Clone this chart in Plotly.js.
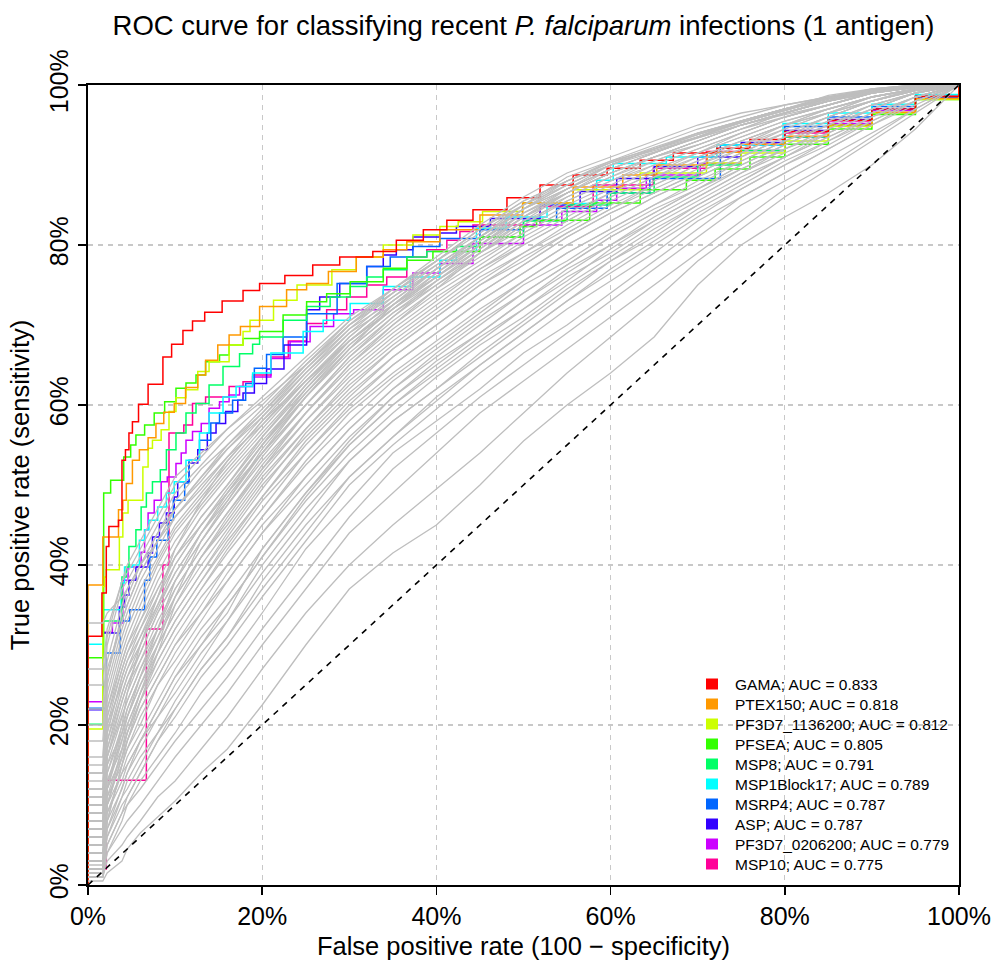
<!DOCTYPE html>
<html><head><meta charset="utf-8">
<script src="https://cdn.plot.ly/plotly-3.0.1.min.js"></script>
<style>html,body{margin:0;padding:0;background:#fff}</style>
</head><body><div id="chart" style="width:993px;height:965px"></div>
<script>
// ---- data (values in %) ----
const antigens = ["GAMA","PTEX150","PF3D7_1136200","PFSEA","MSP8","MSP1Block17","MSRP4","ASP","PF3D7_0206200","MSP10"];
const aucs = ["0.833","0.818","0.812","0.805","0.791","0.789","0.787","0.787","0.779","0.775"];

const gamaFpr = [0,0,1.6,2.1,2.4,3.5,3.9,4.3,4.7,5.1,5.8,6.9,8.6,9.6,10.9,12,13.4,15.4,17.8,19.7,22.6,25.8,28.9,32.7,35.4,38.5,41.2,44.2,48.1,51.9,55.7,59.6,63.4,67.2,72.2,76,80,85,90,95,100];
const gamaTpr = [0,31.1,36.5,42.3,44.8,45.6,53.1,54.4,56.5,57.9,60.1,62.6,66,67.6,69.3,70.5,71.6,73,74.3,75.2,76.2,77.5,78.5,79.2,80.6,81.9,83.1,84.4,85.9,87.5,88.75,89.6,90.6,91.5,92.1,93.2,94.2,95.6,97,98.6,100];
const ptexFpr = [0,0,1.7,3.5,4,4.4,5.1,5.9,6.9,7.8,8.7,9.9,11.2,12.6,13.5,14.9,16.2,17.5,19.7,22.8,25.1,27.6,30.8,33.9,36.6,40.4,45,49.9,55.7,61.4,65.3,71.1,75,80,85,90,95,100];
const ptexTpr = [0,37.5,43.5,46.9,48.1,50.2,53.1,54.4,55.9,57.7,59.1,60.2,62.2,63.75,65.6,67.5,68.75,69.8,72.3,74.4,75.2,76.7,78.5,79.4,80.4,81.9,83.75,85.25,87.25,88.75,90,91.6,92.6,93.6,95,96.6,98.3,100];
const pf1136Fpr = [0,0,1.7,1.9,2.1,3.6,4,4.6,6.3,6.9,7.4,8.4,9.3,10.1,11.25,12.6,13.9,16.2,17.8,18.6,21.3,24,28,30.8,33.9,37.3,40.4,42.5,45.3,49.9,55.7,63.4,71,75,80,85,90,95,100];
const pf1136Tpr = [0,19.5,37.3,38.5,39.4,43.5,46.5,48.1,52.25,54.6,55.6,56.9,59.2,60.9,61.9,64.2,65.4,67.5,69.2,70.6,73.1,75,76.9,78.5,80,81.25,82.3,82.9,84.2,85.25,86.9,89,90.25,91.5,93,94.8,96.5,98.2,100];
const pfseaFpr = [0,0,1.8,2.6,4.1,4.9,5.5,6.5,7.6,8.8,10.1,11.25,12.4,13.5,15.1,16.2,17.8,19.7,22.4,25.1,27.4,30.1,33.9,36.6,39.6,45,49.6,51.5,57.6,63.4,68.7,72,76,80,85,90,95,100];
const pfseaTpr = [0,28.4,49,50.6,53.5,55,56.25,57.5,59,60.4,62.1,62.75,63.75,65.4,66.25,67.5,68.3,69.2,71.25,72.9,73.9,75.4,77.1,78.1,79.2,81,82.3,83.1,85.25,86.9,88.1,89.5,91,92.6,94.5,96.3,98.2,100];
const msp8Fpr = [0,0,1.7,3.9,4.4,4.7,5.5,6.1,6.7,7.4,8.3,9,10.1,11.25,12.4,13.9,15.5,17.4,18.9,19.7,22.4,25.1,27.8,30.1,32,33.9,36.6,38.9,42.3,45,50,55,60,65,70,75,80,85,90,95,100];
const msp8Tpr = [0,20.1,33,38.5,39.75,42.3,44.4,47.25,49,50.4,51.9,54.4,56.5,59,60.2,62.5,64.8,66.4,67.6,68.5,70.6,72.3,73.5,74.8,76,76.9,78.5,79.2,79.8,81,83,85,86.5,88.5,90,91.8,93.5,95,96.5,98.3,100];
const msp1Fpr = [0,0,1.7,3.8,4.2,5.1,5.9,6.5,7,8,9,9.9,11.25,12.8,13.9,15.5,17,18.9,21,24.7,27,30.1,33.9,37,40.4,42.3,44.6,48,52.7,58.4,60.3,66.4,72.2,79.8,85,90,95,100];
const msp1Tpr = [0,30.1,34.4,37.75,39.75,40,43.1,44.4,45.6,47.25,49,50.4,53.1,56.5,59,61,62.3,64,66.5,69.2,70.6,72.7,74.8,76,78.1,79.2,82.1,83.5,85.2,88.1,90.2,91,92.5,95.2,96.5,97.6,98.8,100];
const msrp4Fpr = [0,0,2.1,3.7,4.8,6.5,7.1,7.9,9.2,9.8,11.1,11.6,12.8,14.1,15.1,16.6,18.1,19.1,20.5,22.4,25.1,28.6,32,34.7,37.3,40.4,45,50,53.8,59.6,64.5,72.6,80,85,90,95,100];
const msrp4Tpr = [0,22.1,29,33,34.4,38.1,41,43.1,45.6,48.1,50.25,53.1,55.6,57.75,59,60.6,62.7,64.6,66.3,68.5,71.4,75.2,77.3,78.5,79.8,80.8,81.9,83.1,84.6,86.5,88.3,92.5,94.8,96,97.3,98.6,100];
const aspFpr = [0,0,1.7,3.6,4.2,4.7,5.5,6.9,7.4,8.2,9,9.9,10.3,11.6,12.6,13.7,14.7,15.8,17.2,17.8,19.1,20.5,22.5,25.1,26.6,28.9,32,33.9,35.4,37.3,40.4,42.3,46.2,51.9,56.5,60.7,65,70,75,80,85,90,95,100];
const aspTpr = [0,21.9,31.5,34.75,36.25,38.1,39.75,41.5,43.5,45.25,46.5,48.5,50.4,52.75,54.4,56.5,57.7,59.2,60.6,61.5,62.7,64.5,67.5,71.9,73.5,75.2,77.3,78.75,79.4,81,81.5,82.3,83.3,85,86.7,88.3,89.8,91,92.8,94.3,95.7,97,98.5,100];
const pf0206Fpr = [0,0,1.7,2.8,4,4.6,6.1,6.5,6.9,7.6,8.4,9.1,10.1,10.7,11.25,12,13,13.9,15.1,16.2,17.4,18.9,21,23.2,25.5,28.2,30.5,33.9,37.3,40.4,44.2,50,54.4,58.4,60.7,64.1,70.3,75,80,85,90,95,100];
const pf0206Tpr = [0,22.9,31.6,32.75,38.1,39.75,41.6,44.4,46.5,48.1,50.4,51,52.7,54,55.6,56.7,57.7,59.6,60.4,61.25,62.3,63.5,65.8,67.9,69.8,71.4,71.9,74.4,76.5,77.7,80.2,82.5,84.2,85.6,87.1,88.75,90.2,91.8,93.5,95.2,96.8,98.4,100];
const msp10Fpr = [0,0,2.1,6.7,8.6,9.3,11,12,13.5,16.2,17.8,18.9,21,23,25.1,27.4,29.7,32,34.3,36.6,38.9,41.2,42.7,44.2,51.9,58,64.9,71,75,80,85,90,95,100];
const msp10Tpr = [0,2,13.1,32,40,56.5,57.5,60.2,61,62.3,62.9,63.75,66,68,70.2,71.9,73.5,75,76,78.5,79.4,80.6,81.7,82.5,84.8,87.5,89.6,91.7,92.6,94,95.5,97,98.5,100];

// other antigens (grey), read at shared false-positive-rate positions
const grayFpr = [0,1.7,2.2,3.9,4.5,6,8,10,13,16,20,25,30,35,40,45,50,55,60,65,70,75,80,85,90,95,100];
const g01 = [0.5,0.5,1.5,3,4.5,6.5,8.5,10.5,14,17,22.5,30,37,41.5,45,50,55.5,60,64,68.5,75,80,83.5,86.5,90,94.5,100];
const g02 = [1,1,3,5,6,8,11,13,17,21,27,34,40,45,49.5,54,59,64,68.5,73,78,82,86,89.5,93,96.5,100];
const g03 = [1.5,1.5,4,7,8,10,13,16,20,24,30,37,44,49,54,59,63,67,71,75,79,83,87,90,93.5,97,100];
const g04 = [2,2,5,9,10,12,15,18,22,26,32,39,46,52,56.5,61,65,69,73,77,81,85,88,91,94,97,100];
const g05 = [1,1,4,8,10,13,16,19,24,28,34,42,48,54,58,62,66.5,70,74,78,82,86,89,92,95,97.5,100];
const g06 = [3,3,6,10,11,14,18,21,26,30,36,43,50,55,59.5,64,68,72,75.5,79,83,86,89,92,95,98,100];
const g07 = [2,2,7,11,13,16,19,22,27,31,38,45,51,56,61,65,69,73,77,80.5,84,87,90,93,95.5,98,100];
const g08 = [4,4,8,12,14,17,21,24,29,33,39,46,53,58,62,66,70,74,78,81,84.5,87.5,90.5,93,96,98,100];
const g09 = [3,3,9,14,15,18,22,26,30,35,41,48,54,59,63.5,67.5,71,75,78.5,82,85,88,91,93.5,96,98.5,100];
const g10 = [5,5,10,14,16,19,23,27,32,36,42,49,55,60,64.5,68.5,72,76,79,82.5,85.5,88.5,91,94,96.5,98.5,100];
const g11 = [2,2,8,15,17,20,25,28,33,38,44,50,56,61,65.5,69,73,77,80,83,86,89,92,94,96.5,98.5,100];
const g12 = [6,6,12,16,18,22,26,30,34,39,45,51,57,62,66,70,74,77.5,81,84,87,89.5,92,94.5,97,99,100];
const g13 = [4,4,11,17,19,23,27,31,36,40,46,52.5,58,63,67,71,75,78,81.5,84.5,87,90,92.5,95,97,99,100];
const g14 = [7,7,13,18,20,24,28,32,37,41.5,47,54,59.5,64,68,72,75.5,79,82,85,88,90.5,93,95,97.5,99,100];
const g15 = [3,3,12,19,21,25,29,33,38,43,48.5,55,60.5,65,69,73,76.5,80,83,86,88.5,91,93.5,95.5,97.5,99,100];
const g16 = [8,8,14,20,22,26,30,34,39,44,50,56,61.5,66,70,74,77.5,81,84,86.5,89,91.5,94,96,98,99.3,100];
const g17 = [5,5,15,21,23,27,31,36,41,45,51,57,62.5,67,71,75,78.5,81.5,84.5,87,89.5,92,94,96,98,99.3,100];
const g18 = [9,9,16,22,24,28,32,37,42,46.5,52,58,63.5,68,72,76,79,82,85,87.5,90,92.5,94.5,96.5,98,99.5,100];
const g19 = [6,6,16,23,25,29,34,38,43,47.5,53,59,64.5,69,73,77,80,83,86,88.5,90.5,93,95,96.5,98.5,99.5,100];
const g20 = [10,10,17,24,26,30,35,39,44,48.5,54,60,65.5,70,74,77.5,81,84,86.5,89,91,93,95,97,98.5,99.5,100];
const g21 = [7,7,18,25,27,31,36,40,45,49.5,55,61,66.5,71,75,78.5,81.5,84.5,87,89.5,91.5,93.5,95.5,97,98.5,99.5,100];
const g22 = [11,11,19,26,28,32,37,41,46,50,55.5,61.5,67,71.5,75.5,79,82,85,87.5,90,92,94,96,97.5,99,99.7,100];
const g23 = [8,8,20,27,29,33,38,42,47,51,56,62,67.5,72,76,79.5,83,85.5,88,90,92,94,96,97.5,99,99.7,100];
const g24 = [12,12,21,28,30,34,39,43,47.5,51.5,56.5,62.5,68,72.5,76.5,80,83.5,86,88.5,90.5,92.5,94.5,96.5,98,99,99.7,100];
const g25 = [9,9,22,29,31,35,40,44,48,52,57,63,68.5,73,77,80.5,84,86.5,89,91,93,95,96.5,98,99.2,99.8,100];
const g26 = [14,14,23,30,32,36,40.5,44.5,48.5,52.5,57.5,63.5,69,73.5,77.5,81,84.5,87,89.5,91.5,93.5,95.5,97,98.2,99.2,99.8,100];
const g27 = [10,10,24,31,33,37,41,45,49,53,58,64,69.5,74,78,81.5,85,87.5,90,92,94,95.5,97,98.3,99.3,99.8,100];
const g28 = [16,16,25,32,34,38,42,46,49.5,53.5,58.5,64.5,70,74.5,78,82,85.5,88,90.5,92.5,94.5,96,97.5,98.5,99.4,99.8,100];
const g29 = [12,12,26,33,35,39,43,47,50.5,54.5,59,65,70.5,74.5,78.5,82.5,86,89,91,93,95,96.5,97.5,98.5,99.4,99.9,100];
const g30 = [18,18,27,33,35,39,43,46,50,53.5,57.5,63,68,72,75.5,79,82.5,86,88.5,91,93,95,96.5,98,99.2,99.8,100];
const g31 = [15,15,26,34,36,40,44,47,51,54.5,58.5,64,69,72.5,76,80,83.5,86.5,89,91,93,95,96.5,98,99.2,99.8,100];
const g32 = [20,20,28,35,37,40,44,48,52,55,59,64.5,69.5,73,77,80.5,84,87,89.5,91.5,93.5,95.5,97,98.3,99.3,99.9,100];
const g33 = [32.75,32.75,34,36,37,40,43,47,51,55,59.5,65,70,73.5,77,81,84.5,87.5,90,92,94,95.5,97,98.3,99.3,99.9,100];
const g34 = [22,22,30,37,38,41,45,49,52.5,56,60,65.5,70.5,74,77.5,81,84.5,87.5,90,91.6,93.4,95,96.5,98,99.3,100,100];
const g35 = [25,25,31,38,39,42,46,50,53.5,57,61,66,71,74.5,78,82,85,88,90,92,93.5,95.3,96.8,98.3,99.5,100,100];
const g36 = [2,2,12,20,24,30,36,42,48,53,58,63,68,72,76,80,84,86.5,89,91,92.5,94.5,96.5,98,99.3,100,100];
const g37 = [27,27,32,38,40,43,47,51,54,57,60.5,65,70,74,78,82,85.5,88,90.3,91.8,93.4,95,96.3,97.5,99,100,100];
const g38 = [1,1,5,9,11,14,18,22,27,31,37,44,51,56,60.5,65,69,73,76.5,80,83.5,87,90,92.5,95.5,98,100];
const g39 = [2.5,2.5,6,11,12,15,19,23,28,33,40,47,53,58,62,66.5,70.5,74.5,78,81.5,85,88,91,93.5,96,98.5,100];
const g40 = [4,4,9,13,15,18,22,26,31,35,41,48.5,55,60,64,68,72,75.5,79.5,83,86,89,91.5,94,96.5,98.5,100];
const g41 = [1.5,1.5,7,12,14,18,21,25,30,34,42,49,55.5,61,65,69,73,76.5,80,83.5,86.5,89.5,92,94.5,97,99,100];
const g42 = [5,5,11,15,17,21,25,29,34,38,44,51,57,62,66.5,70.5,74,77.5,81,84,87,90,92.5,95,97,99,100];
const g43 = [3,3,10,16,18,22,26,30,35,40,46,53,59,63.5,67.5,71.5,75.5,79,82,85,87.5,90.5,93,95.5,97.5,99,100];
const g44 = [6,6,13,17,19,23,28,32,37,42,48,54,60,65,69,73,76.5,80,83,86,88.5,91,93.5,96,98,99.3,100];
const g45 = [2,2,10,17,20,24,29,33,38,42.5,48.5,55.5,61,66,70,74,77.5,81,84,86.5,89,91.5,94,96,98,99.3,100];
const g46 = [8,8,15,19,21,25,30,34,39,43.5,49.5,56.5,62,67,71,75,78,81.5,84.5,87.5,90,92,94.5,96.5,98,99.5,100];
const g47 = [4,4,14,19,22,26,31,35,40,44.5,50.5,57,63,67.5,71.5,75.5,79,82.5,85.5,88,90.5,92.5,95,96.5,98.5,99.5,100];
const g48 = [9,9,16,21,23,27,32,36,41,45.5,51.5,58,64,68.5,72.5,76.5,80,83,86,88.5,91,93,95,97,98.5,99.5,100];
const g49 = [6,6,17,23,25,28,33,37,42,46.5,52.5,59,65,69.5,73.5,77,80.5,83.5,86.5,89,91.5,93.5,95.5,97,98.5,99.5,100];
const g50 = [11,11,18,24,26,29,34,38,43,47.5,53.5,60,66,70.5,74.5,78,81.5,84.5,87,89.5,91.5,94,96,97.5,99,99.7,100];
const g51 = [13,13,20,25,27,30,34.5,39,44,48,54.5,61,67,71.5,75,79,82.5,85.5,88,90.5,92.5,94.5,96,97.5,99,99.7,100];
const g52 = [7,7,19,26,28,31,35,40,45,49,55,62,68,72.5,76,80,83.5,86.5,89,91,93,95,96.5,98,99,99.7,100];
const g53 = [10,10,21,27,29,32,36,41,46,50,56,62.5,68.5,73,77,81,84.5,87,89.5,91.5,93.5,95.5,97,98,99.2,99.8,100];
const g54 = [3,3,10,16,19,24,30,36,43,48,54,61,67,72.5,77,81,85,88.5,90.5,92,93.8,95.3,96.8,98.3,99.5,100,100];
const g55 = [5,5,12,18,21,26,32,38,44,49,55,61.5,67.5,72,76.5,80.5,84.5,88,90.3,92.2,94,95.5,97,98.5,99.4,100,100];
const g56 = [1,1,8,15,18,23,29,35,41,46,52,59,65,70,74.5,79,83,86.5,89.5,91.5,93.5,95.3,96.8,98.5,99.4,100,100];
const g57 = [14,14,22,28,30,33,37,41,45,49,54,60,66,71,75.5,79.5,83.5,87,90,92,93.8,95.4,97,98.7,99.5,100,100];

const diagX = [0,100];
const diagY = [0,100];
const tickVals = [0,20,40,60,80,100];
const tickText = ["0%","20%","40%","60%","80%","100%"];

// ---- styling ----
const colors = ["#FF0000","#FF9900","#CCFF00","#33FF00","#00FF66","#00FFFF","#0066FF","#3300FF","#CC00FF","#FF0099"];
const fprs = [gamaFpr,ptexFpr,pf1136Fpr,pfseaFpr,msp8Fpr,msp1Fpr,msrp4Fpr,aspFpr,pf0206Fpr,msp10Fpr];
const tprs = [gamaTpr,ptexTpr,pf1136Tpr,pfseaTpr,msp8Tpr,msp1Tpr,msrp4Tpr,aspTpr,pf0206Tpr,msp10Tpr];
const grays = [g01,g02,g03,g04,g05,g06,g07,g08,g09,g10,g11,g12,g13,g14,g15,g16,g17,g18,g19,g20,g21,g22,g23,g24,g25,g26,g27,g28,g29,g30,
  g31,g32,g33,g34,g35,g36,g37,g38,g39,g40,g41,g42,g43,g44,g45,g46,g47,g48,g49,g50,g51,g52,g53,g54,g55,g56,g57];

const traces = [];
for (let i = colors.length - 1; i >= 0; i--) {
  traces.push({x: fprs[i], y: tprs[i], mode: "lines", line: {color: colors[i], width: 1.5, shape: "hv"}, showlegend: false, hoverinfo: "skip"});
}
grays.forEach(g => traces.push({x: grayFpr, y: g, mode: "lines", line: {color: "#bebebe", width: 1.3}, showlegend: false, hoverinfo: "skip"}));
traces.push({x: diagX, y: diagY, mode: "lines", line: {color: "#000", width: 1.6, dash: "6px,6px"}, showlegend: false, hoverinfo: "skip"});

// legend (bottom-right, R style: coloured squares + text)
const font = "Liberation Sans, Arial, Helvetica, sans-serif";
const annotations = [];
const shapes = [];
antigens.forEach((a, i) => {
  const yy = (885 - (684 + 20 * i)) / 800;
  annotations.push({xref: "paper", yref: "paper", x: (733 - 88) / 871, y: yy, xanchor: "left", yanchor: "middle",
    text: a + "; AUC = " + aucs[i], showarrow: false, font: {size: 15.5, family: font, color: "#000"}});
  shapes.push({type: "rect", xref: "paper", yref: "paper", xsizemode: "pixel", ysizemode: "pixel",
    xanchor: (712 - 88) / 871, yanchor: yy, x0: -6, x1: 6, y0: -5.5, y1: 5.5, fillcolor: colors[i], line: {width: 0}});
});

const layout = {
  width: 993, height: 965,
  margin: {l: 88, r: 34, t: 85, b: 80},
  paper_bgcolor: "#fff", plot_bgcolor: "#fff",
  font: {family: font, color: "#000"},
  title: {text: "ROC curve for classifying recent <i>P. falciparum</i> infections (1 antigen)",
    font: {size: 27.5, family: font, color: "#000"}, x: 0.5, xref: "paper", y: 1 - 25/965, yref: "container", yanchor: "middle"},
  xaxis: {range: [0, 100], tickvals: tickVals, ticktext: tickText, showline: true, mirror: true, linecolor: "#000", linewidth: 2,
    ticks: "outside", ticklen: 8, tickwidth: 1.5, tickcolor: "#000", tickfont: {size: 25},
    showgrid: true, gridcolor: "#c8c8c8", gridwidth: 1.3, griddash: "5px,5px", zeroline: false, automargin: false,
    title: {text: "False positive rate (100 \u2212 specificity)", font: {size: 25.5}, standoff: 8}},
  yaxis: {range: [0, 100], tickvals: tickVals, ticktext: tickText, showline: true, mirror: true, linecolor: "#000", linewidth: 2,
    ticks: "outside", ticklen: 8, tickwidth: 1.5, tickcolor: "#000", tickfont: {size: 25}, tickangle: -90,
    showgrid: true, gridcolor: "#c8c8c8", gridwidth: 1.3, griddash: "5px,5px", zeroline: false, automargin: false,
    title: {text: "True positive rate (sensitivity)", font: {size: 25.5}, standoff: 8}},
  showlegend: false,
  annotations: annotations,
  shapes: shapes
};
Plotly.newPlot("chart", traces, layout, {displayModeBar: false, staticPlot: true});
</script></body></html>
